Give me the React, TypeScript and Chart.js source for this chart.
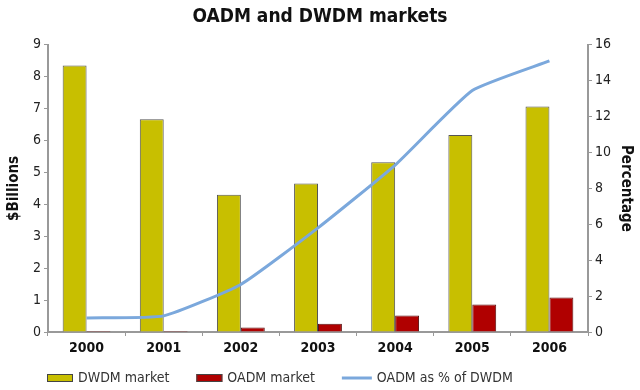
import React, { useEffect, useRef } from "react";
import { Chart, registerables } from "chart.js";

Chart.register(...registerables);

const years = ["2000", "2001", "2002", "2003", "2004", "2005", "2006"];
const dwdmMarket = [8.35, 6.67, 4.3, 4.65, 5.32, 6.17, 7.07];
const oadmMarket = [0.03, 0.03, 0.14, 0.26, 0.52, 0.86, 1.08];
const oadmPct = [0.78, 0.9, 2.65, 5.8, 9.3, 13.45, 15.1];
const leftTicks = [0, 9, 1];
const rightTicks = [0, 16, 2];

const FONT = "'Liberation Sans Narrow', 'DejaVu Sans Condensed', 'Liberation Sans', Arial, sans-serif";

const YELLOW = "#C8BF00";
const RED = "#B00000";
const BLUE = "#7BA8DC";

const legendPlugin = {
  id: "customLegend",
  afterDraw(chart: any) {
    const ctx = chart.ctx;
    const ds = chart.data.datasets;
    const y = 378;
    let x = 47;
    ctx.save();
    ctx.font = `14px ${FONT}`;
    ctx.textBaseline = "middle";
    ctx.fillStyle = "#333";
    ds.forEach((d: any) => {
      if (d.type === "line") {
        ctx.strokeStyle = d.borderColor;
        ctx.lineWidth = 3;
        ctx.beginPath();
        ctx.moveTo(x, y);
        ctx.lineTo(x + 30, y);
        ctx.stroke();
        x += 35;
      } else {
        ctx.fillStyle = d.backgroundColor;
        ctx.fillRect(x, y - 4, 26, 8);
        ctx.strokeStyle = "#444";
        ctx.lineWidth = 1;
        ctx.strokeRect(x + 0.5, y - 3.5, 25, 7);
        x += 31;
      }
      ctx.fillStyle = "#333";
      ctx.fillText(d.label, x, y);
      x += ctx.measureText(d.label).width + 27;
    });
    ctx.restore();
  },
};

export default function App() {
  const ref = useRef<HTMLCanvasElement>(null);
  useEffect(() => {
    document.body.style.margin = "0";
    const chart = new Chart(ref.current!, {
      type: "bar",
      data: {
        labels: years,
        datasets: [
          {
            type: "bar",
            label: "DWDM market",
            data: dwdmMarket,
            backgroundColor: YELLOW,
            borderColor: "#555",
            borderWidth: 1,
            yAxisID: "y",
            categoryPercentage: 0.62,
            barPercentage: 1.0,
            order: 2,
          },
          {
            type: "bar",
            label: "OADM market",
            data: oadmMarket,
            backgroundColor: RED,
            borderColor: "#5a1010",
            borderWidth: 1,
            yAxisID: "y",
            categoryPercentage: 0.62,
            barPercentage: 1.0,
            order: 2,
          },
          {
            type: "line",
            label: "OADM as % of DWDM",
            data: oadmPct,
            borderColor: BLUE,
            backgroundColor: BLUE,
            borderWidth: 3,
            pointRadius: 0,
            tension: 0.15,
            yAxisID: "y1",
            order: 1,
          } as any,
        ],
      },
      plugins: [legendPlugin],
      options: {
        responsive: false,
        animation: false,
        layout: { padding: { left: 0, right: 0, top: 0, bottom: 30 } },
        plugins: {
          legend: { display: false },
          tooltip: { enabled: false },
          title: {
            display: true,
            text: "OADM and DWDM markets",
            color: "#111",
            font: { family: FONT, size: 19, weight: "bold" },
            padding: { top: 6, bottom: 16 },
          },
        },
        scales: {
          x: {
            offset: true,
            grid: { offset: true, drawOnChartArea: false, tickLength: 4, color: "#999" },
            border: { color: "#999", width: 2 },
            ticks: { color: "#111", font: { family: FONT, size: 14, weight: "bold" }, padding: 4 },
            afterFit(scale: any) {
              scale.height = 28;
            },
          },
          y: {
            position: "left",
            min: leftTicks[0],
            max: leftTicks[1],
            ticks: { stepSize: leftTicks[2], color: "#222", font: { family: FONT, size: 14 }, padding: 3 },
            grid: { drawOnChartArea: false, tickLength: 4, color: "#999" },
            border: { color: "#999", width: 2 },
            title: {
              display: true,
              text: "$Billions",
              color: "#111",
              font: { family: FONT, size: 15, weight: "bold" },
              padding: { top: 5, bottom: 0 },
            },
            afterFit(scale: any) {
              scale.width = 48;
            },
          },
          y1: {
            position: "right",
            min: rightTicks[0],
            max: rightTicks[1],
            ticks: { stepSize: rightTicks[2], color: "#222", font: { family: FONT, size: 14 }, padding: 3 },
            grid: { drawOnChartArea: false, tickLength: 4, color: "#999" },
            border: { color: "#999", width: 2 },
            title: {
              display: true,
              text: "Percentage",
              color: "#111",
              font: { family: FONT, size: 15, weight: "bold" },
              padding: { top: 5, bottom: 0 },
            },
            afterFit(scale: any) {
              scale.width = 52;
            },
          },
        },
      } as any,
    });
    return () => chart.destroy();
  }, []);
  return (
    <div style={{ position: "absolute", left: 0, top: 0, width: 640, height: 390, background: "#fff" }}>
      <canvas ref={ref} width={640} height={390} />
    </div>
  );
}
